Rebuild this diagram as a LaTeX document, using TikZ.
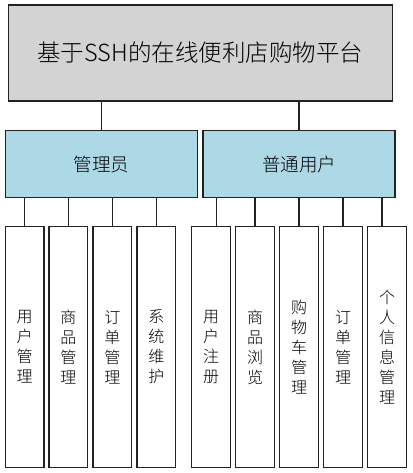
\documentclass[tikz,border=0pt]{standalone}
\usepackage{fontspec}
\setmainfont{Noto Sans CJK SC}[UprightFont=* Light]
\definecolor{topgray}{HTML}{D3D3D3}
\definecolor{midblue}{HTML}{ADD8E6}
\definecolor{edge}{HTML}{222222}
\begin{document}
\begin{tikzpicture}[x=1pt,y=-1pt,
  box/.style={draw=edge,line width=1.3pt,inner sep=0pt,outer sep=0pt},
  topbox/.style={box,fill=topgray,minimum width=384pt,minimum height=96pt,font=\fontsize{23.5}{26}\selectfont},
  midbox/.style={box,fill=midblue,minimum width=192pt,minimum height=67pt,font=\fontsize{18.5}{22}\selectfont},
  leafbox/.style={box,fill=white,minimum width=38.7pt,minimum height=240.6pt,align=center,font=\fontsize{16}{20}\selectfont},
  link/.style={draw=edge,line width=1.3pt}]
\useasboundingbox (0,0) rectangle (412,473);
\node[topbox] (top) at (200.3,53) {基于SSH的在线便利店购物平台};
\node[midbox] (adm) at (101.7,164.2) {管理员};
\node[midbox] (usr) at (299,164.2) {普通用户};
\node[leafbox] (a1) at (24.5,347) {用\\户\\管\\理};
\node[leafbox] (a2) at (68.3,347) {商\\品\\管\\理};
\node[leafbox] (a3) at (112.3,347) {订\\单\\管\\理};
\node[leafbox] (a4) at (156.3,347) {系\\统\\维\\护};
\node[leafbox] (u1) at (211,347) {用\\户\\注\\册};
\node[leafbox] (u2) at (255,347) {商\\品\\浏\\览};
\node[leafbox] (u3) at (299,347) {购\\物\\车\\管\\理};
\node[leafbox] (u4) at (343,347) {订\\单\\管\\理};
\node[leafbox] (u5) at (387,347) {个\\人\\信\\息\\管\\理};
\draw[link] (top.south -| adm.north) -- (adm.north);
\draw[link] (top.south -| usr.north) -- (usr.north);
\foreach \n in {a1,a2,a3,a4}
  \draw[link] (adm.south -| \n.north) -- (\n.north);
\draw[link] ([xshift=5.7pt]usr.south -| u1.north) -- ([xshift=5.7pt]u1.north);
\foreach \n in {u2,u3,u4}
  \draw[link] (usr.south -| \n.north) -- (\n.north);
\draw[link] ([xshift=-5pt]usr.south -| u5.north) -- ([xshift=-5pt]u5.north);
\end{tikzpicture}
\end{document}
